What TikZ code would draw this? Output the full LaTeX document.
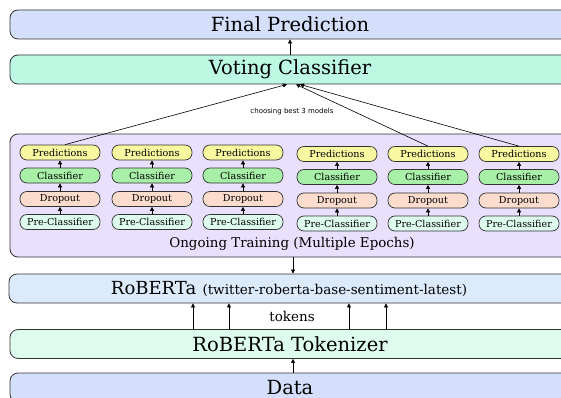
\documentclass[tikz,border=0pt]{standalone}
\usepackage{fontspec}
\setmainfont{DejaVu Serif}
\setsansfont{DejaVu Sans}
\usetikzlibrary{arrows.meta}
\definecolor{lineC}{HTML}{333333}
\definecolor{finalC}{HTML}{D4E0FB}
\definecolor{voteC}{HTML}{BCF8E2}
\definecolor{trainC}{HTML}{E8E0FC}
\definecolor{robC}{HTML}{DCEBFC}
\definecolor{tokC}{HTML}{DEFCEE}
\definecolor{dataC}{HTML}{D4E0FB}
\definecolor{predC}{HTML}{F8F8A0}
\definecolor{clsC}{HTML}{A8F0A8}
\definecolor{dropC}{HTML}{FCDCCC}
\definecolor{preC}{HTML}{DEFCEE}
\tikzset{
  bigbox/.style={draw=lineC, line width=0.8pt, rounded corners=8pt, minimum width=560pt, minimum height=29pt, inner sep=0pt, font=\fontsize{19.5}{22}\selectfont},
  smallbox/.style={draw=lineC, line width=0.7pt, rounded corners=7pt, minimum width=80pt, minimum height=15pt, inner sep=0pt, font=\fontsize{9.6}{11}\selectfont},
  pred/.style={smallbox, fill=predC},
  cls/.style={smallbox, fill=clsC},
  drop/.style={smallbox, fill=dropC},
  precls/.style={smallbox, fill=preC},
  arr/.style={-{Triangle[length=4pt,width=4pt]}, line width=0.6pt, black},
}
\begin{document}
\begin{tikzpicture}[x=1pt,y=-1pt]
\useasboundingbox (0,0) rectangle (561,398);
\node[bigbox, fill=finalC] (final) at (290,24.5) {Final Prediction};
\node[bigbox, fill=voteC] (vote) at (290,69.5) {Voting Classifier};
\node[draw=lineC, line width=0.8pt, rounded corners=8pt, fill=trainC, minimum width=565pt, minimum height=123pt, inner sep=0pt] (train) at (292.5,195.5) {};
\node[font=\fontsize{13.4}{15}\selectfont] (traintxt) at (292,244) {Ongoing Training (Multiple Epochs)};
\node[bigbox, fill=robC] (rob) at (289,288.5) {{\fontsize{18}{20}\selectfont RoBERTa} {\fontsize{13.5}{15}\selectfont(twitter-roberta-base-sentiment-latest)}};
\node[bigbox, fill=tokC] (tok) at (290,344) {RoBERTa Tokenizer};
\node[bigbox, fill=dataC] (data) at (290,387.5) {Data};
\foreach \i/\x/\dy in {1/60/0,2/152/0,3/243/0,4/337/1.5,5/428/1.5,6/519/1.5}{
  \node[pred] (p\i) at (\x,152.5+\dy) {Predictions};
  \node[cls] (c\i) at (\x,175.5+\dy) {Classifier};
  \node[drop] (d\i) at (\x,199+\dy) {Dropout};
  \node[precls] (q\i) at (\x,222+\dy) {Pre-Classifier};
  \draw[arr] (q\i) -- (d\i);
  \draw[arr] (d\i) -- (c\i);
  \draw[arr] (c\i) -- (p\i);
}
\draw[arr] (vote) -- (final);
\draw[arr] ([xshift=5pt]p1.north) -- ([xshift=-3pt]vote.south);
\draw[arr] (p5.north) -- ([xshift=6pt]vote.south);
\draw[arr] (p6.north) -- ([xshift=10pt]vote.south);
\node[font=\sffamily\fontsize{7}{8}\selectfont] (choose) at (292,112) {choosing best 3 models};
\coordinate (mid) at (293,0);
\draw[arr] (train.south -| mid) -- (rob.north -| mid);
\foreach \x in {193,229,349,386}{
  \draw[arr] (tok.north -| \x,0) -- (rob.south -| \x,0);
}
\node[font=\fontsize{13.5}{15}\selectfont] (tokens) at (292,316) {tokens};
\draw[arr] (data.north -| mid) -- (tok.south -| mid);
\end{tikzpicture}
\end{document}
